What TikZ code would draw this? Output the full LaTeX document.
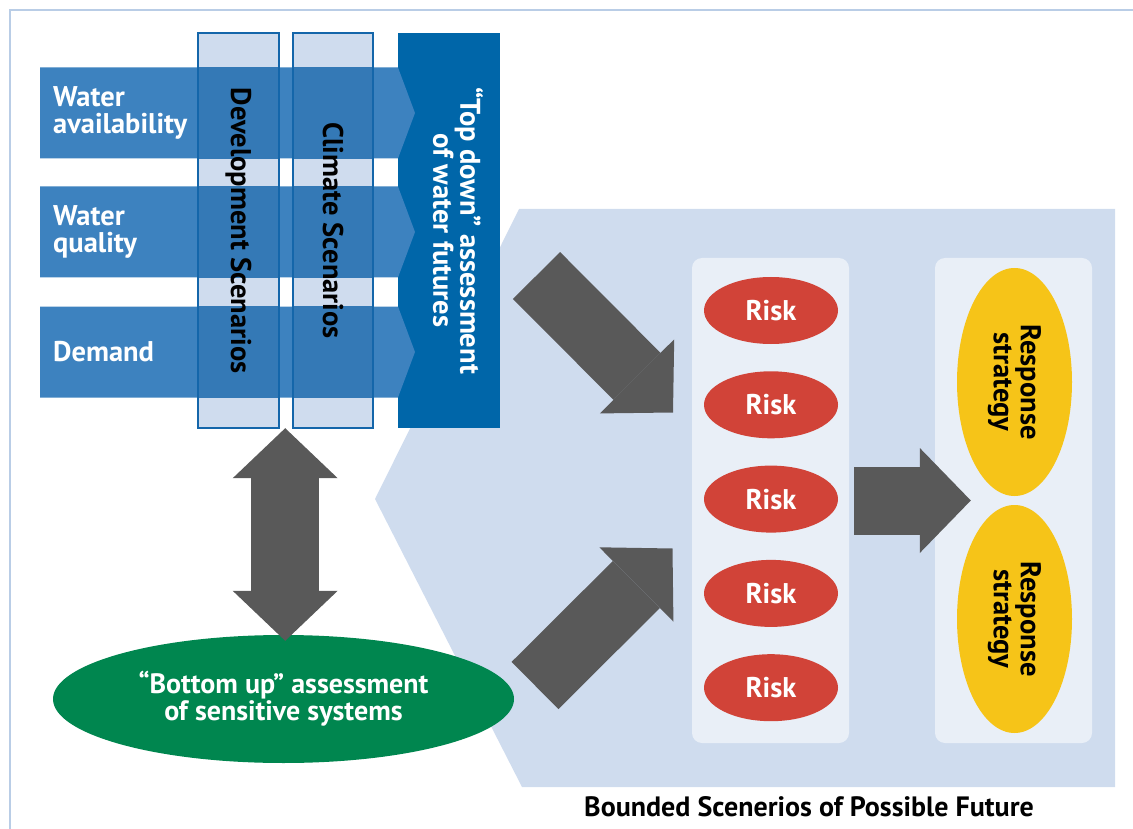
\documentclass[tikz,border=0pt]{standalone}
\usepackage{fontspec}
\setmainfont{PT Sans}
\usetikzlibrary{arrows.meta, shapes.geometric}

\definecolor{framec}{HTML}{B9CDE6}
\definecolor{barblue}{HTML}{3D82BF}
\definecolor{overblue}{HTML}{3479B6}
\definecolor{paleblue}{HTML}{CFDCEE}
\definecolor{deepblue}{HTML}{0066A9}
\definecolor{lineblue}{HTML}{1466AA}
\definecolor{boxgrey}{HTML}{E9EFF7}
\definecolor{arrowgrey}{HTML}{595959}
\definecolor{riskred}{HTML}{D14338}
\definecolor{respyellow}{HTML}{F6C418}
\definecolor{bottomgreen}{HTML}{00864F}

\begin{document}
\begin{tikzpicture}[x=1pt, y=-1pt]
				\tikzstyle{bigfont}=[font=\bfseries\fontsize{28.5}{27}\selectfont]
				\tikzstyle{column}=[fill=paleblue, minimum width=80, minimum height=395, inner sep=0]
				\tikzstyle{coltext}=[bigfont, rotate=-90, inner sep=0]
				\tikzstyle{barlabel}=[bigfont, text=white, anchor=west, align=left, inner sep=0]
				\tikzstyle{container}=[fill=boxgrey, rounded corners=10pt, minimum width=157, minimum height=485, inner sep=0]
				\tikzstyle{risk}=[ellipse, fill=riskred, text=white, minimum width=134, minimum height=67, inner sep=0, bigfont]
				\tikzstyle{resp}=[ellipse, fill=respyellow, minimum width=228, minimum height=115, inner sep=0, bigfont, rotate=-90, align=center]
				\tikzstyle{blockarrow}=[draw=arrowgrey, -{Triangle[length=51pt, width=105pt, line width=0pt]}]

				\useasboundingbox (0,0) rectangle (1133,829);
				\draw[framec, line width=2.5pt] (10,829) -- (10,10) -- (1133,10);
				\fill[paleblue] (519,209) -- (1115,209) -- (1115,787) -- (522,787) -- (375,499) -- cycle;

				\node[fill=deepblue, minimum width=102, minimum height=395, inner sep=0] (topdown) at (449,230.5) {};
				\node[bigfont, text=white, rotate=-90, align=center, inner sep=0] (topdowntext) at ([xshift=9]topdown.center) {“Top down” assessment\\of water futures};
				\node[column] (devcol) at (238.5,230.5) {};
				\node[column] (climcol) at (333,230.5) {};
				\foreach \yc in {113,232,352} {
					\fill[barblue] (40,\yc-45.5) -- (398,\yc-45.5) -- (415,\yc) -- (398,\yc+45.5) -- (40,\yc+45.5) -- cycle;
					\begin{scope}
						\clip (40,\yc-45.5) rectangle (415,\yc+45.5);
						\fill[overblue] (devcol.north west) rectangle (devcol.south east);
						\fill[overblue] (climcol.north west) rectangle (climcol.south east);
					\end{scope}
				}
				\draw[lineblue, line width=2pt] (devcol.north west) rectangle (devcol.south east);
				\draw[lineblue, line width=2pt] (climcol.north west) rectangle (climcol.south east);
				\node[coltext] (devtext) at (devcol) {Development Scenarios};
				\node[coltext] (climtext) at (climcol) {Climate Scenarios};

				\node[barlabel] (avail) at (53,113) {Water\\availability};
				\node[barlabel] (quality) at (53,232) {Water\\quality};
				\node[barlabel] (demand) at (53,352) {Demand};

				\node[container] (riskbox) at (770.5,500.5) {};
				\node[container] (respbox) at (1013.5,500.5) {};
				\foreach \i in {0,...,4}
					\node[risk] (risk\i) at (771,310.5+94.3*\i) {Risk};
				\node[resp] (resp1) at (1014.5,382) {Response\\strategy};
				\node[resp] (resp2) at (1014.5,619) {Response\\strategy};

				\node[ellipse, fill=bottomgreen, text=white, minimum width=461, minimum height=128, inner sep=0, align=center, font=\bfseries\fontsize{28}{27}\selectfont] (bottomup) at (283.5,699) {“Bottom up” assessment\\of sensitive systems};
				\node[font=\bfseries\fontsize{28}{28}\selectfont, anchor=base, inner sep=0] (caption) at (809,816) {Bounded Scenerios of Possible Future};

				\coordinate (dbltop) at ([xshift=6.5]devcol.south east);
				\coordinate (dblbot) at ([yshift=-6]bottomup.north);
				\draw[blockarrow, line width=68pt, {Triangle[length=50pt, width=105pt, line width=0pt]}-{Triangle[length=50pt, width=105pt, line width=0pt]}] (dbltop) -- (dbltop |- dblbot);
				\coordinate (upstart) at (536.5,275.5);
				\coordinate (uptip) at (673,412.5);
				\draw[blockarrow, line width=66.5pt] (upstart) -- (uptip);
				\coordinate (lowstart) at (535,685.5);
				\coordinate (lowtip) at (672.5,548.5);
				\draw[blockarrow, line width=66.5pt] (lowstart) -- (lowtip);
				\draw[blockarrow, line width=68pt] ([xshift=5]riskbox.east) -- ([xshift=36]respbox.west |- riskbox.east);
\end{tikzpicture}
\end{document}
